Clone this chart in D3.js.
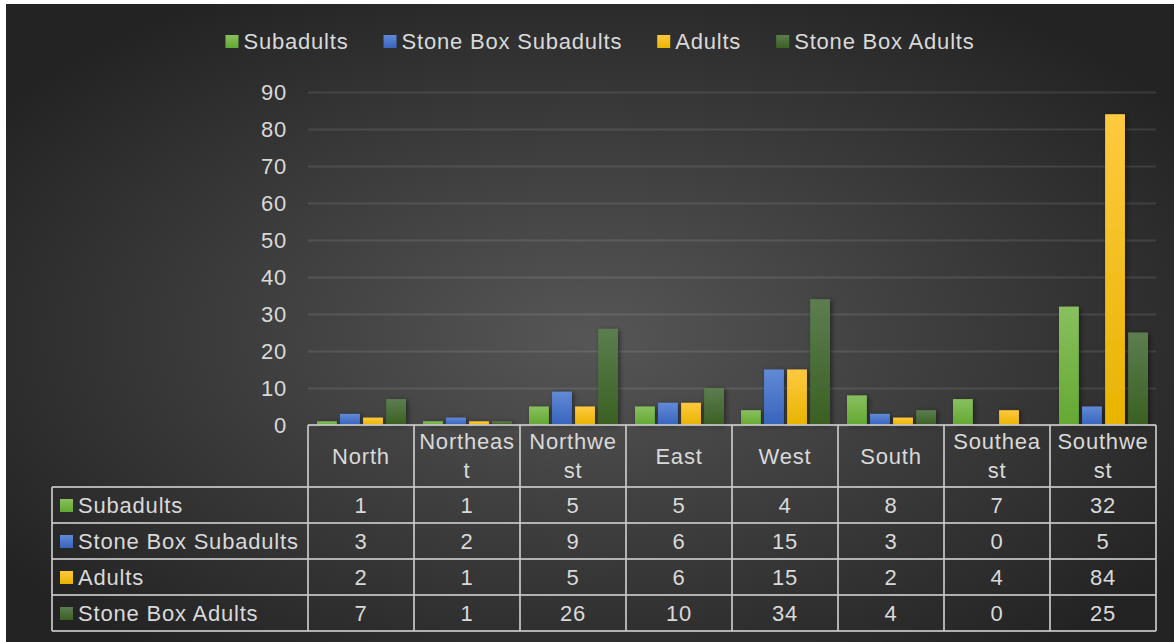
<!DOCTYPE html>
<html>
<head>
<meta charset="utf-8">
<script src="https://cdn.jsdelivr.net/npm/d3@7"></script>
<style>
html,body{margin:0;padding:0;background:#fff;}
svg{display:block;}
text{font-family:"Liberation Sans",Arial,sans-serif;fill:#d9d9d9;letter-spacing:0.8px;}
</style>
</head>
<body>
<script>
const categories = ["North","Northeast","Northwest","East","West","South","Southeast","Southwest"];
const seriesNames = ["Subadults","Stone Box Subadults","Adults","Stone Box Adults"];
const subadults = [1,1,5,5,4,8,7,32];
const stoneBoxSubadults = [3,2,9,6,15,3,0,5];
const adults = [2,1,5,6,15,2,4,84];
const stoneBoxAdults = [7,1,26,10,34,4,0,25];
const yTicks = [0,10,20,30,40,50,60,70,80,90];
const seriesColors = [["#88c05e","#64a832"],["#618ad6","#3864bd"],["#ffc940","#e8b400"],["#5d7d50","#3a6022"]];

const series = [subadults, stoneBoxSubadults, adults, stoneBoxAdults];

const W = 1174, H = 642;
const svg = d3.select("body").append("svg").attr("width", W).attr("height", H);
const defs = svg.append("defs");

const bg = defs.append("radialGradient").attr("id","bg")
  .attr("cx","50%").attr("cy","52%").attr("r","62%");
bg.append("stop").attr("offset","0%").attr("stop-color","#565656");
bg.append("stop").attr("offset","100%").attr("stop-color","#232323");

seriesColors.forEach((c,i)=>{
  const g = defs.append("linearGradient").attr("id","g"+i).attr("x1",0).attr("y1",0).attr("x2",0).attr("y2",1);
  g.append("stop").attr("offset","0%").attr("stop-color",c[0]);
  g.append("stop").attr("offset","100%").attr("stop-color",c[1]);
});
const f = defs.append("filter").attr("id","sh").attr("x","-30%").attr("y","-10%").attr("width","170%").attr("height","120%");
f.append("feDropShadow").attr("dx",2).attr("dy",1).attr("stdDeviation",2.5).attr("flood-color","#000").attr("flood-opacity",0.45);

svg.append("rect").attr("x",6).attr("y",4).attr("width",W-6).attr("height",H-4).attr("fill","url(#bg)");

const plotLeft = 308, plotRight = 1156, plotTop = 92, plotBase = 425;
const x = d3.scaleBand().domain(categories).range([plotLeft,plotRight]).paddingInner(0).paddingOuter(0);
const y = d3.scaleLinear().domain([0,90]).range([plotBase, plotTop]);
const xs = d3.scaleBand().domain(seriesNames).range([9, x.bandwidth()-8]).paddingInner(0.14);

// gridlines
const yAxis = d3.axisLeft(y).tickValues(yTicks).tickSize(-(plotRight-plotLeft)).tickFormat(d3.format("d")).tickPadding(20);
const ga = svg.append("g").attr("transform",`translate(${plotLeft},0)`).call(yAxis);
ga.select(".domain").remove();
ga.selectAll(".tick line").attr("stroke","#ffffff").attr("stroke-opacity",0.1).attr("stroke-width",2);
ga.selectAll(".tick text").attr("font-size",22).attr("fill","#d9d9d9").attr("x",-21)
  .style("font-family","Liberation Sans, Arial, sans-serif");

// bars
const bars = svg.append("g").attr("filter","url(#sh)");
series.forEach((vals,si)=>{
  bars.selectAll(null).data(vals.map((v,i)=>({v,c:categories[i]}))).enter().append("rect")
    .attr("x",d=>x(d.c)+xs(seriesNames[si]))
    .attr("width",xs.bandwidth())
    .attr("y",d=>y(d.v))
    .attr("height",d=>plotBase-y(d.v))
    .attr("fill",`url(#g${si})`);
});

// legend
const leg = svg.append("g");
const items = [];
seriesNames.forEach((n,i)=>{
  const g = leg.append("g");
  g.append("rect").attr("x",0).attr("y",-6).attr("width",13).attr("height",13).attr("fill",`url(#g${i})`);
  const t = g.append("text").attr("x",18).attr("y",0).attr("dy","0.35em").attr("font-size",22).text(n);
  const w = 18 + t.node().getComputedTextLength();
  items.push({g,w});
});
const legTotal = items.reduce((s,d)=>s+d.w,0) + 35*(items.length-1);
let lx = 600 - legTotal/2;
items.forEach(d=>{ d.g.attr("transform",`translate(${lx},41)`); lx += d.w + 35; });

// table
const tbl = svg.append("g");
const rowTop = 487, rowH = 36, legLeft = 52;
const lineColor = "#c8c8c8";
function line(x1,y1,x2,y2){
  tbl.append("line").attr("x1",x1).attr("y1",y1).attr("x2",x2).attr("y2",y2)
    .attr("stroke",lineColor).attr("stroke-opacity",0.85).attr("stroke-width",2);
}
line(plotLeft, plotBase, plotRight, plotBase);
for(let r=0;r<=series.length;r++) line(legLeft, rowTop+r*rowH, plotRight, rowTop+r*rowH);
line(legLeft, rowTop, legLeft, rowTop+series.length*rowH);
categories.forEach(c=>line(x(c), plotBase, x(c), rowTop+series.length*rowH));
line(plotRight, plotBase, plotRight, rowTop+series.length*rowH);

// header labels with character wrap
categories.forEach(c=>{
  const cx = x(c) + x.bandwidth()/2;
  const t = tbl.append("text").attr("font-size",22).attr("text-anchor","middle");
  const lines = [];
  let cur = "";
  const probe = tbl.append("text").attr("font-size",22);
  for(const ch of c){
    probe.text(cur+ch);
    if(probe.node().getComputedTextLength() > 98 && cur.length){ lines.push(cur); cur = ch; }
    else cur += ch;
  }
  lines.push(cur);
  probe.remove();
  const mid = (plotBase+rowTop)/2;
  const lh = 29;
  lines.forEach((ln,i)=>{
    t.append("tspan").attr("x",cx).attr("y", mid + (i-(lines.length-1)/2)*lh).attr("dy","0.35em").text(ln);
  });
});

// rows
seriesNames.forEach((n,si)=>{
  const cy = rowTop + si*rowH + rowH/2;
  tbl.append("rect").attr("x",60).attr("y",cy-6).attr("width",13).attr("height",13).attr("fill",`url(#g${si})`);
  tbl.append("text").attr("x",78).attr("y",cy).attr("dy","0.35em").attr("font-size",22).text(n);
  series[si].forEach((v,i)=>{
    tbl.append("text").attr("x",x(categories[i])+x.bandwidth()/2).attr("y",cy).attr("dy","0.35em")
      .attr("text-anchor","middle").attr("font-size",22).text(v);
  });
});
</script>
</body>
</html>
